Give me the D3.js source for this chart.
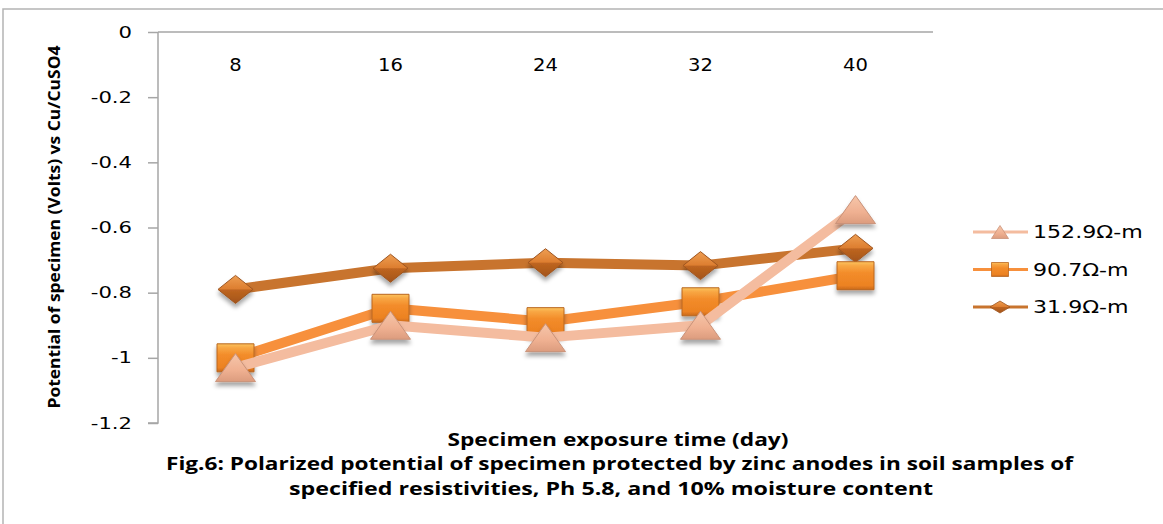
<!DOCTYPE html>
<html>
<head>
<meta charset="utf-8">
<script src="https://cdn.jsdelivr.net/npm/d3@7"></script>
<style>
  html, body { margin: 0; padding: 0; background: #fff; }
  svg { display: block; }
</style>
</head>
<body>
<svg id="chart" width="1163" height="524"></svg>
<script>
// Exposure days (category axis)
const days = ["8", "16", "24", "32", "40"];
// Polarized potential (V vs Cu/CuSO4) for each soil resistivity
const seriesNames = ["31.9Ω-m", "90.7Ω-m", "152.9Ω-m"];
const pot31_9 = [-0.79, -0.725, -0.708, -0.717, -0.664];
const pot90_7 = [-1.0, -0.848, -0.889, -0.828, -0.748];
const pot152_9 = [-1.03, -0.90, -0.938, -0.90, -0.545];
const yTicks = [0, -0.2, -0.4, -0.6, -0.8, -1, -1.2];
const legendOrder = ["152.9Ω-m", "90.7Ω-m", "31.9Ω-m"];

const svg = d3.select("#chart");

const series = [
  { name: seriesNames[0], values: pot31_9, shape: "diamond", line: "#C8742E", grad: "gDiamond" },
  { name: seriesNames[1], values: pot90_7, shape: "square", line: "#F7903C", grad: "gSquare" },
  { name: seriesNames[2], values: pot152_9, shape: "triangle", line: "#F4BC9F", grad: "gTriangle" }
];

// gradients and shadow
const defs = svg.append("defs");
function grad(id, stops) {
  const g = defs.append("linearGradient").attr("id", id)
    .attr("x1", 0).attr("y1", 0).attr("x2", 0).attr("y2", 1);
  stops.forEach(s => g.append("stop").attr("offset", s[0]).attr("stop-color", s[1]));
}
grad("gSquare", [["0%", "#FCC45E"], ["14%", "#F8A744"], ["40%", "#F38C2A"], ["85%", "#EC8222"], ["100%", "#C9691C"]]);
grad("gDiamond", [["0%", "#EE9E52"], ["48%", "#DD7E30"], ["52%", "#BE6520"], ["100%", "#A3541A"]]);
grad("gTriangle", [["0%", "#F6C6AA"], ["60%", "#EFB091"], ["100%", "#DC9C7E"]]);
const f = defs.append("filter").attr("id", "shadow")
  .attr("x", "-30%").attr("y", "-30%").attr("width", "160%").attr("height", "170%");
f.append("feDropShadow").attr("dx", 0).attr("dy", 4).attr("stdDeviation", 2.2)
  .attr("flood-color", "#000").attr("flood-opacity", 0.35);

// outer frame
svg.append("path").attr("d", "M3,524 L3,9 L1163,9")
  .attr("fill", "none").attr("stroke", "#B4B4B4").attr("stroke-width", 1.5);

const plot = { left: 158, right: 933, top: 32, bottom: 423 };

const x = d3.scaleBand().domain(days).range([plot.left, plot.right]);
const y = d3.scaleLinear().domain([-1.2, 0]).range([plot.bottom, plot.top]);

// stretch text horizontally by a factor
function stretch(sel, k) {
  sel.each(function () {
    const w = this.getComputedTextLength();
    d3.select(this).attr("textLength", w * k).attr("lengthAdjust", "spacingAndGlyphs");
  });
}

// value axis
const yAxis = svg.append("g").attr("transform", `translate(${plot.left},0)`)
  .call(d3.axisLeft(y).tickValues(yTicks).tickSize(10).tickPadding(16)
    .tickFormat(d => String(d)));
yAxis.selectAll("path, line").attr("stroke", "#A6A6A6").attr("stroke-width", 1.5);
yAxis.select("path.domain").attr("d", `M-10,${plot.bottom}H0V${plot.top}`);
yAxis.selectAll("text").attr("font-family", "DejaVu Sans").attr("font-size", 16)
  .attr("fill", "#000");
stretch(yAxis.selectAll("text"), 1.32);

// category axis sits on the zero line, labels just below it
const xAxis = svg.append("g").attr("transform", `translate(0,${y(0)})`)
  .call(d3.axisBottom(x).tickSize(0));
xAxis.select("path.domain").attr("d", `M${plot.left},0H${plot.right}`)
  .attr("stroke", "#A6A6A6").attr("stroke-width", 1.5);
xAxis.selectAll("text").attr("y", 39).attr("dy", null)
  .attr("font-family", "DejaVu Sans").attr("font-size", 17).attr("fill", "#000");
stretch(xAxis.selectAll("text"), 1.15);

// marker shapes with independent width and height
function shapePath(shape, w, h) {
  const a = w / 2, b = h / 2;
  if (shape === "square") return `M${-a},${-b}H${a}V${b}H${-a}Z`;
  if (shape === "diamond") return `M0,${-b}L${a},0L0,${b}L${-a},0Z`;
  return `M0,${-b}L${a},${b}H${-a}Z`;
}
const markerSize = { square: [37, 28], diamond: [35, 28], triangle: [40, 28] };
const markerStroke = { square: "#B9661F", diamond: "#9E5520", triangle: "#C99279" };

const line = d3.line().x((d, i) => x(days[i]) + x.bandwidth() / 2).y(d => y(d));

series.forEach(s => {
  const g = svg.append("g");
  g.append("path").datum(s.values).attr("d", line)
    .attr("fill", "none").attr("stroke", s.line).attr("stroke-width", 10)
    .attr("stroke-linejoin", "round");
  const [w, h] = markerSize[s.shape];
  g.selectAll("path.m").data(s.values).join("path").attr("class", "m")
    .attr("transform", (d, i) => `translate(${x(days[i]) + x.bandwidth() / 2},${y(d)})`)
    .attr("d", shapePath(s.shape, w, h))
    .attr("fill", `url(#${s.grad})`).attr("stroke", markerStroke[s.shape]).attr("stroke-width", 1)
    .attr("filter", "url(#shadow)");
});

// legend
const legendY = d3.scalePoint().domain(legendOrder).range([232, 307]);
const legendSize = { square: [17, 14], diamond: [20, 12], triangle: [17, 13] };
legendOrder.forEach(name => {
  const s = series.find(d => d.name === name);
  const g = svg.append("g").attr("transform", `translate(0,${legendY(name)})`);
  g.append("line").attr("x1", 973).attr("x2", 1028).attr("y1", 0).attr("y2", 0)
    .attr("stroke", s.line).attr("stroke-width", 3);
  const [w, h] = legendSize[s.shape];
  g.append("path").attr("transform", "translate(1000,0)").attr("d", shapePath(s.shape, w, h))
    .attr("fill", `url(#${s.grad})`).attr("stroke", markerStroke[s.shape]).attr("stroke-width", 0.8);
  const t = g.append("text").attr("x", 1033).attr("y", 6)
    .attr("font-family", "DejaVu Sans").attr("font-size", 17).attr("fill", "#000").text(name);
  stretch(t, 1.3);
});

// axis titles and caption
svg.append("text")
  .attr("transform", "translate(60,227) rotate(-90)")
  .attr("text-anchor", "middle").attr("font-family", "Open Sans").attr("font-weight", "bold")
  .attr("font-size", 16.5).attr("fill", "#000")
  .attr("textLength", 363).attr("lengthAdjust", "spacingAndGlyphs")
  .text("Potential of specimen (Volts) vs Cu/CuSO4");

const captions = [
  { text: "Specimen exposure time (day)", cx: 618, y: 446, w: 341 },
  { text: "Fig.6: Polarized potential of specimen protected by zinc anodes in soil samples of", cx: 619.5, y: 470, w: 907 },
  { text: "specified resistivities, Ph 5.8, and 10% moisture content", cx: 611, y: 495, w: 644 }
];
svg.selectAll("text.cap").data(captions).join("text").attr("class", "cap")
  .attr("x", d => d.cx).attr("y", d => d.y).attr("text-anchor", "middle")
  .attr("font-family", "Open Sans").attr("font-weight", "bold").attr("font-size", 17)
  .attr("fill", "#000")
  .attr("textLength", d => d.w).attr("lengthAdjust", "spacingAndGlyphs")
  .text(d => d.text);
</script>
</body>
</html>
